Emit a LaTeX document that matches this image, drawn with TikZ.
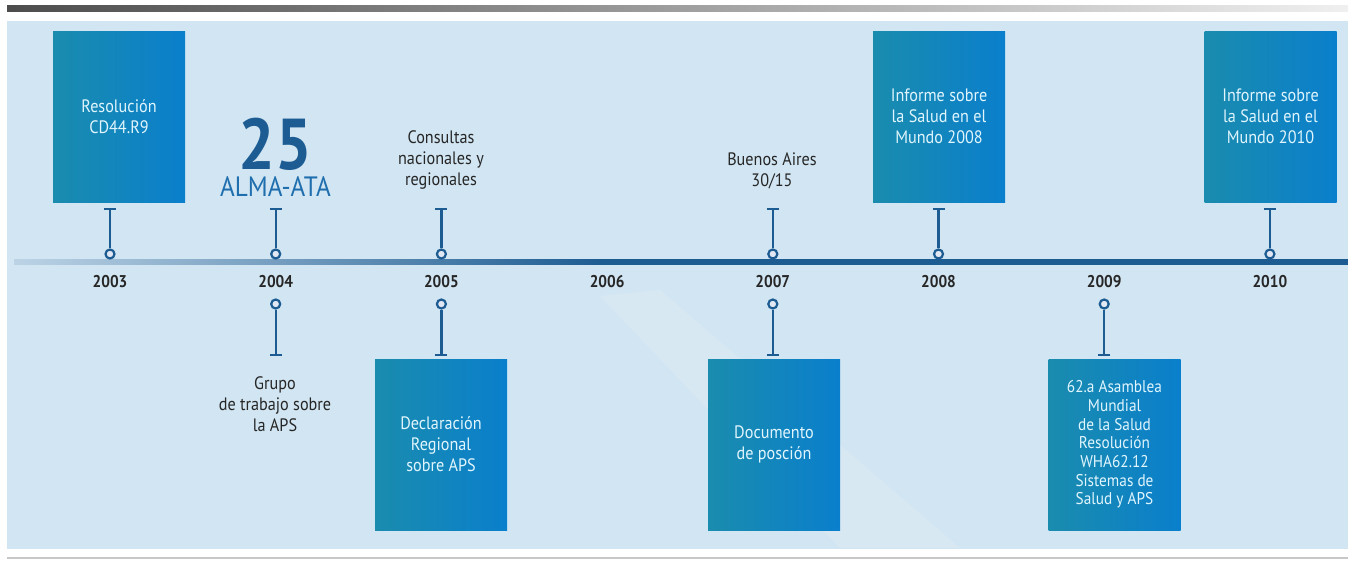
\documentclass[tikz,border=0pt]{standalone}
\usepackage{fontspec}
\setmainfont{PT Sans}[FakeStretch=0.9]
\usetikzlibrary{arrows.meta}
\definecolor{lineblue}{HTML}{1D5C92}
\definecolor{linelight}{HTML}{BCD3E5}
\definecolor{boxteal}{HTML}{1A8CAE}
\definecolor{boxblue}{HTML}{0A7FCC}
\definecolor{bglight}{HTML}{D1E5F2}
\definecolor{bgmid}{HTML}{E2E8F3}
\definecolor{almablue}{HTML}{1F6EAE}
\pgfdeclarehorizontalshading{axisfade}{100bp}{color(0bp)=(linelight); color(25bp)=(linelight); color(47bp)=(lineblue); color(100bp)=(lineblue)}
\begin{document}
\begin{tikzpicture}[x=1pt,y=-1pt,
    dot/.style={circle,draw=lineblue,line width=2.2pt,fill=bgmid,inner sep=0pt,minimum size=9pt},
    stem/.style={lineblue,line width=2.4pt,-{Bar[width=12pt,line width=2.4pt]}},
    year/.style={font=\fontsize{17}{20}\selectfont\bfseries,text=black!85},
    event/.style={align=center,font=\fontsize{18}{21}\selectfont,text=black!85},
    infobox/.style={minimum width=132pt,minimum height=171pt,inner sep=0pt,left color=boxteal,right color=boxblue,
        align=center,text=white!88!cyan,font=\fontsize{18}{21}\selectfont}]
\useasboundingbox (0,0) rectangle (1348,560);
% frame and background
\shade[left color=black!70,right color=black!6](7,5) rectangle (1348,11);
\shade[left color=bglight,middle color=bgmid,right color=bglight](7,21) rectangle (1348,548);
\fill[white,opacity=0.15](600,296)--(660,290)--(960,548)--(840,548)--cycle;
\draw[black!22,line width=2pt](7,558)--(1348,558);

% time axis
\shade[shading=axisfade](14,259.5) rectangle (1348,264.5);
\foreach \y [count=\i from 0] in {2003,...,2010}
{
    \node[year] (y\y) at (110+165.7*\i,282) {\y};
}

% stems above and below
\foreach \y in {2003,2004,2005,2007,2008,2010}
{
    \node[dot] (d\y) at (y\y |- 0,254) {};
    \coordinate (t\y) at (y\y |- 0,208);
    \draw[stem](d\y)--(t\y);
}
\foreach \y in {2004,2005,2007,2009}
{
    \node[dot] (e\y) at (y\y |- 0,304) {};
    \coordinate (u\y) at (y\y |- 0,356);
    \draw[stem](e\y)--(u\y);
}

% boxes
\node[infobox] (b2003) at (119,116.5) {Resolución\\CD44.R9};
\node[infobox] (b2008) at (939,116.5) {Informe sobre\\la Salud en el\\Mundo 2008};
\node[infobox] (b2010) at (1270.5,116.5) {Informe sobre\\la Salud en el\\Mundo 2010};
\node[infobox] (b2005) at (441,444.5) {Declaración\\Regional\\sobre APS};
\node[infobox] (b2007) at (774,444.5) {Documento\\de posción};
\node[infobox,font=\fontsize{17}{18.7}\selectfont] (b2009) at (1114.5,444.5)
    {62.a Asamblea\\Mundial\\de la Salud\\Resolución\\WHA62.12\\Sistemas de\\Salud y APS};

% free texts
\node[align=center,inner sep=0pt,font=\fontsize{28}{27}\selectfont,text=almablue] (alma) at (275.5,157)
    {{\fontsize{72}{72}\selectfont\bfseries\color{lineblue}25}\\ALMA-ATA};
\node[event] (c2005) at (441,160) {Consultas\\nacionales y\\regionales};
\node[event] (c2007) at (772,170.5) {Buenos Aires\\30/15};
\node[event] (g2004) at (275,404.5) {Grupo\\de trabajo sobre\\la APS};
\end{tikzpicture}
\end{document}
